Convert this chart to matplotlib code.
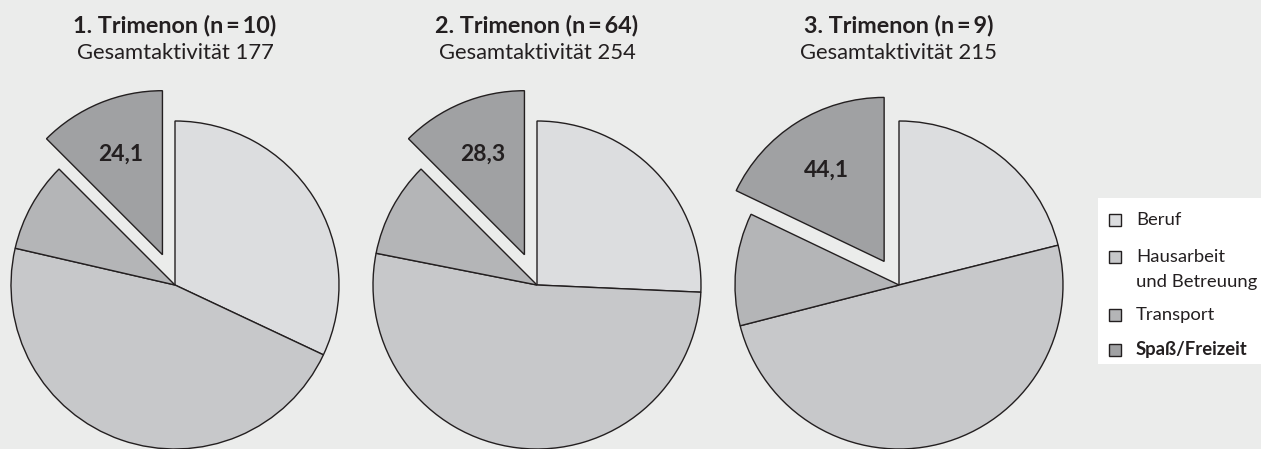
import matplotlib.pyplot as plt
from matplotlib.patches import Rectangle

# -- data --
kategorien = ["Beruf", "Hausarbeit\nund Betreuung", "Transport", "Spaß/Freizeit"]
trimenon = ["1. Trimenon", "2. Trimenon", "3. Trimenon"]
n_werte = [10, 64, 9]
gesamt = [177, 254, 215]
# slice shares in percent (Beruf, Hausarbeit, Transport, Spaß)
anteile_t1 = [32.0, 46.6, 8.9, 12.5]
anteile_t2 = [25.7, 52.4, 9.4, 12.5]
anteile_t3 = [21.1, 49.9, 11.1, 17.9]
spass_werte = [24.1, 28.3, 44.1]
explode_spass = [0.2, 0.2, 0.17]

farben = ["#dcdddf", "#c7c8ca", "#b4b5b7", "#a0a1a3"]
kante = "#231f20"
hintergrund = "#ebeceb"

W, H = 1261, 449
plt.rcParams['font.family'] = ['Lato', 'DejaVu Sans']

fig = plt.figure(figsize=(W / 100, H / 100), dpi=100, facecolor=hintergrund)

R = 164                 # pie radius in pixels
zentren = [(175, 285), (537, 285), (899, 285)]
S = 2.6 * R

for i, anteile in enumerate([anteile_t1, anteile_t2, anteile_t3]):
    cx, cy = zentren[i]
    ax = fig.add_axes([(cx - S / 2) / W, (H - cy - S / 2) / H, S / W, S / H])
    labels = ["", "", "", ("%.1f" % spass_werte[i]).replace(".", ",")]
    wedges, texts = ax.pie(anteile, colors=farben, startangle=90, counterclock=False,
                           explode=[0, 0, 0, explode_spass[i]], labels=labels,
                           labeldistance=0.66,
                           wedgeprops=dict(edgecolor=kante, linewidth=1.0),
                           textprops=dict(fontsize=16.5, fontweight='bold', color="#231f20"))
    for t in texts:
        t.set_ha('center')
        t.set_va('center')
    ax.set_xlim(-1.3, 1.3)
    ax.set_ylim(-1.3, 1.3)
    ax.axis('off')

    fig.text(cx / W, 1 - 25 / H, "%s (n\u2009=\u2009%d)" % (trimenon[i], n_werte[i]),
             ha='center', va='center', fontsize=16.8, fontweight='bold', color="#231f20")
    fig.text(cx / W, 1 - 53 / H, "Gesamtaktivität %d" % gesamt[i],
             ha='center', va='center', fontsize=15.8, color="#231f20")

# -- legend --
fig.patches.append(Rectangle((1098 / W, 1 - 364 / H), (W - 1098) / W, (364 - 198) / H,
                             transform=fig.transFigure, facecolor='white',
                             edgecolor='none', zorder=0))
leg_y = [220, 257, 315, 350]
for k, name in enumerate(kategorien):
    y = leg_y[k]
    fig.patches.append(Rectangle((1109 / W, 1 - (y + 6) / H), 12 / W, 12 / H,
                                 transform=fig.transFigure, facecolor=farben[k],
                                 edgecolor=kante, linewidth=1.0, zorder=2))
    for j, zeile in enumerate(name.split("\n")):
        fig.text(1136 / W, 1 - (y + 25 * j) / H, zeile, ha='left', va='center',
                 fontsize=13.3, color="#231f20",
                 fontweight='bold' if k == 3 else 'normal')

fig.savefig("out.png", dpi=100, facecolor=hintergrund)
